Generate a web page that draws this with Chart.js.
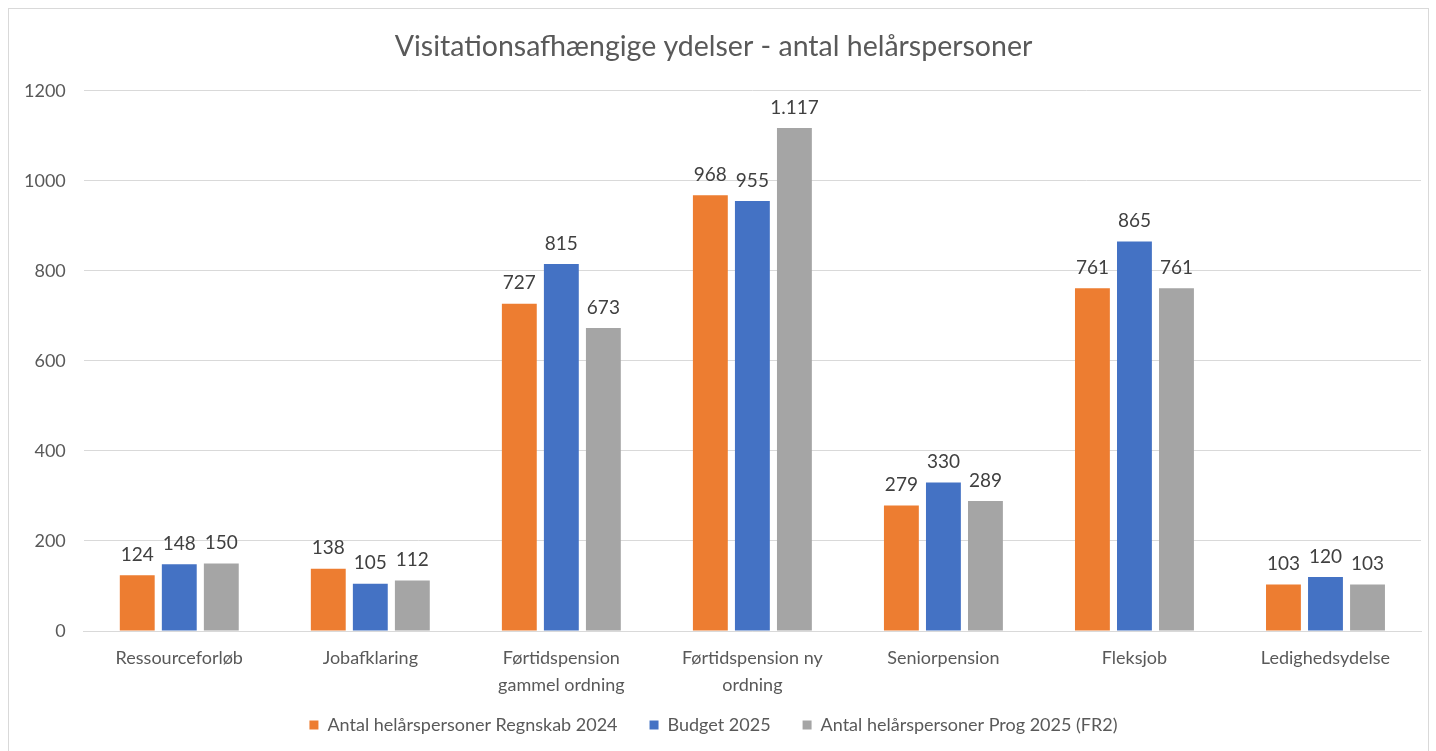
<!DOCTYPE html>
<html>
<head>
<meta charset="utf-8">
<script src="https://cdn.jsdelivr.net/npm/chart.js@4.4.1/dist/chart.umd.min.js"></script>
<style>
  html, body { margin: 0; padding: 0; background: #ffffff; overflow: hidden; }
  #frame { position: absolute; left: 8px; top: 8px; width: 1421px; height: 800px; border: 1px solid #d9d9d9; box-sizing: border-box; }
  #c { position: absolute; left: 0; top: 0; }
</style>
</head>
<body>
<div id="frame"></div>
<canvas id="c" width="1436" height="751"></canvas>
<script>
const titleText = 'Visitationsafhængige ydelser - antal helårspersoner';
const categories = [
  'Ressourceforløb',
  'Jobafklaring',
  ['Førtidspension', 'gammel ordning'],
  ['Førtidspension ny', 'ordning'],
  'Seniorpension',
  'Fleksjob',
  'Ledighedsydelse'
];
const seriesNames = [
  'Antal helårspersoner Regnskab 2024',
  'Budget 2025',
  'Antal helårspersoner Prog 2025 (FR2)'
];
const regnskab2024 = [124, 138, 727, 968, 279, 761, 103];
const budget2025 = [148, 105, 815, 955, 330, 865, 120];
const prog2025 = [150, 112, 673, 1117, 289, 761, 103];
const yTicks = [0, 200, 400, 600, 800, 1000, 1200];
const seriesColors = ['#ED7D31', '#4472C4', '#A5A5A5'];

const X_OVERLAP = 21; // x-axis labels may extend into the legend band

function fmt(v) {
  const s = String(Math.round(v));
  return s.replace(/\B(?=(\d{3})+(?!\d))/g, '.');
}

const valueLabels = {
  id: 'valueLabels',
  afterLayout(chart) {
    const s = chart.scales.x;
    s.bottom += X_OVERLAP;
    s.height += X_OVERLAP;
  },
  afterDatasetsDraw(chart) {
    const ctx = chart.ctx;
    ctx.save();
    ctx.font = '19px Lato';
    ctx.fillStyle = '#404040';
    ctx.textAlign = 'center';
    ctx.textBaseline = 'bottom';
    chart.data.datasets.forEach((ds, i) => {
      const meta = chart.getDatasetMeta(i);
      meta.data.forEach((bar, j) => {
        ctx.fillText(fmt(ds.data[j]), bar.x, bar.y - 11);
      });
    });
    ctx.restore();
  }
};

Chart.defaults.font.family = 'Lato';
Chart.defaults.color = '#595959';

new Chart(document.getElementById('c'), {
  type: 'bar',
  data: {
    labels: categories,
    datasets: [
      { label: seriesNames[0], data: regnskab2024, backgroundColor: seriesColors[0] },
      { label: seriesNames[1], data: budget2025, backgroundColor: seriesColors[1] },
      { label: seriesNames[2], data: prog2025, backgroundColor: seriesColors[2] }
    ]
  },
  options: {
    responsive: false,
    animation: false,
    devicePixelRatio: 1,
    layout: { padding: { left: 6, right: 15, top: 30, bottom: 7 } },
    datasets: { bar: { categoryPercentage: 0.66, barPercentage: 0.83 } },
    plugins: {
      title: {
        display: true,
        text: titleText,
        color: '#595959',
        font: { size: 28.5, weight: 'normal' },
        padding: { top: 0, bottom: 26.5 }
      },
      legend: {
        position: 'bottom',
        labels: {
          boxWidth: 9,
          boxHeight: 9,
          padding: 32,
          color: '#595959',
          font: { size: 18 }
        }
      },
      tooltip: { enabled: false }
    },
    scales: {
      x: {
        grid: { display: false },
        border: { color: '#d9d9d9' },
        ticks: { color: '#595959', font: { size: 18, lineHeight: 1.5 }, padding: 6, maxRotation: 0, autoSkip: false },
        afterFit(scale) { scale.height -= X_OVERLAP; }
      },
      y: {
        min: 0,
        max: 1200,
        afterBuildTicks(axis) { axis.ticks = yTicks.map(v => ({ value: v })); },
        grid: { color: '#d9d9d9', drawTicks: false },
        border: { display: false },
        ticks: { color: '#595959', font: { size: 18 }, padding: 18, callback: (v) => String(v) }
      }
    }
  },
  plugins: [valueLabels]
});
</script>
</body>
</html>
